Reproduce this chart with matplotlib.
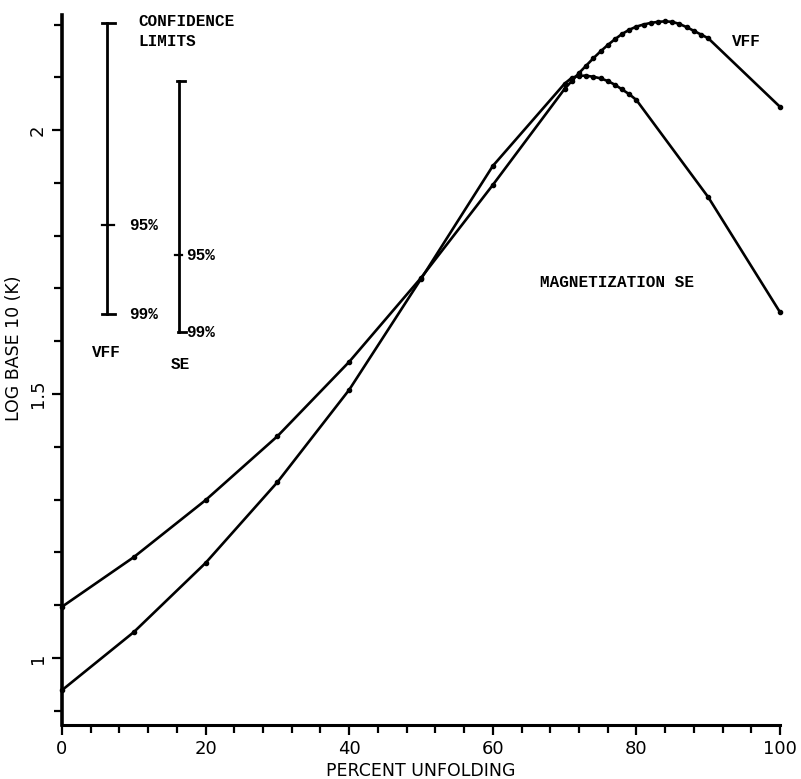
import matplotlib
matplotlib.use("Agg")
import matplotlib.pyplot as plt
import numpy as np

# ---- data ----
vff_x = [0, 10, 20, 30, 40, 50, 60, 70, 71, 72, 73, 74, 75, 76, 77, 78, 79, 80,
         81, 82, 83, 84, 85, 86, 87, 88, 89, 90, 100]
vff_y = [1.097, 1.191, 1.299, 1.420, 1.561, 1.720, 1.896, 2.078, 2.093, 2.108,
         2.122, 2.136, 2.149, 2.161, 2.172, 2.182, 2.190, 2.196, 2.200, 2.203,
         2.205, 2.206, 2.205, 2.201, 2.195, 2.188, 2.181, 2.174, 2.044]

se_x = [0, 10, 20, 30, 40, 50, 60, 70, 71, 72, 73, 74, 75, 76, 77, 78, 79, 80, 90, 100]
se_y = [0.939, 1.049, 1.180, 1.333, 1.508, 1.718, 1.932, 2.088, 2.099, 2.103,
        2.103, 2.101, 2.098, 2.093, 2.086, 2.077, 2.068, 2.057, 1.873, 1.655]

# confidence limit bars: [VFF, SE]
conf_labels = ["VFF", "SE"]
conf_x = [6.3, 16.3]
conf_top = [2.203, 2.093]
conf_95 = [1.820, 1.763]
conf_99 = [1.651, 1.617]

x_major = [0, 20, 40, 60, 80, 100]
y_major = [1, 1.5, 2]
y_major_labels = ["1", "1.5", "2"]

# ---- figure ----
fig = plt.figure(figsize=(8.01, 7.79), dpi=100)
ax = fig.add_axes([62 / 801, 1 - 725 / 779, (780 - 62) / 801, (725 - 15) / 779])
ax.set_xlim(0, 100)
ax.set_ylim(0.873, 2.218)

lw = 1.9
ax.plot(vff_x, vff_y, color="black", lw=lw, marker="o", ms=3.0, clip_on=False,
        solid_joinstyle="round")
ax.plot(se_x, se_y, color="black", lw=lw, marker="o", ms=3.0, clip_on=False,
        solid_joinstyle="round")

# confidence bars
for i in range(2):
    x = conf_x[i]
    ax.plot([x, x], [conf_99[i], conf_top[i]], color="black", lw=2.0)
    if i == 0:
        ax.plot([x - 0.7, x + 1.1], [conf_top[i]] * 2, color="black", lw=2.0)
        ax.plot([x - 0.7, x + 0.9], [conf_95[i]] * 2, color="black", lw=1.6)
        ax.plot([x - 0.7, x + 1.1], [conf_99[i]] * 2, color="black", lw=2.0)
    else:
        ax.plot([x - 0.3, x + 0.9], [conf_top[i]] * 2, color="black", lw=2.0)
        ax.plot([x - 0.5, x + 0.4], [conf_95[i]] * 2, color="black", lw=1.6)
        ax.plot([x - 0.1, x + 1.0], [conf_99[i]] * 2, color="black", lw=2.0)

mono = dict(family="Liberation Mono", fontweight="bold", fontsize=11.5, color="black")
ax.text(10.7, 2.205, "CONFIDENCE", va="center", ha="left", **mono)
ax.text(10.7, 2.167, "LIMITS", va="center", ha="left", **mono)
ax.text(9.3, conf_95[0], "95%", va="center", ha="left", **mono)
ax.text(9.3, conf_99[0], "99%", va="center", ha="left", **mono)
ax.text(17.3, conf_95[1], "95%", va="center", ha="left", **mono)
ax.text(17.3, conf_99[1], "99%", va="center", ha="left", **mono)
ax.text(4.2, 1.578, conf_labels[0], va="center", ha="left", **mono)
ax.text(15.2, 1.555, conf_labels[1], va="center", ha="left", **mono)
ax.text(93.3, 2.167, "VFF", va="center", ha="left", **mono)
ax.text(66.6, 1.712, "MAGNETIZATION SE", va="center", ha="left", **mono)

# axes styling
for s in ["top", "right"]:
    ax.spines[s].set_visible(False)
ax.spines["left"].set_linewidth(2.6)
ax.spines["bottom"].set_linewidth(2.2)

ax.set_xticks(x_major)
ax.set_xticks(np.arange(0, 101, 4), minor=True)
ax.set_yticks(y_major)
ax.set_yticklabels(y_major_labels, rotation=90, va="center")
ax.set_yticks(np.arange(0.9, 2.21, 0.1), minor=True)
ax.tick_params(which="both", direction="out", width=1.6, color="black")
ax.tick_params(which="major", length=7)
ax.tick_params(which="minor", length=6)
ax.tick_params(axis="x", labelsize=13, pad=4)
ax.tick_params(axis="y", labelsize=13, pad=4)

ax.set_xlabel("PERCENT UNFOLDING", fontsize=12.5, labelpad=3)
ax.set_ylabel("LOG BASE 10 (K)", fontsize=12.5)
ax.yaxis.set_label_coords(-0.054, 0.53)

fig.savefig("out.png", dpi=100)
